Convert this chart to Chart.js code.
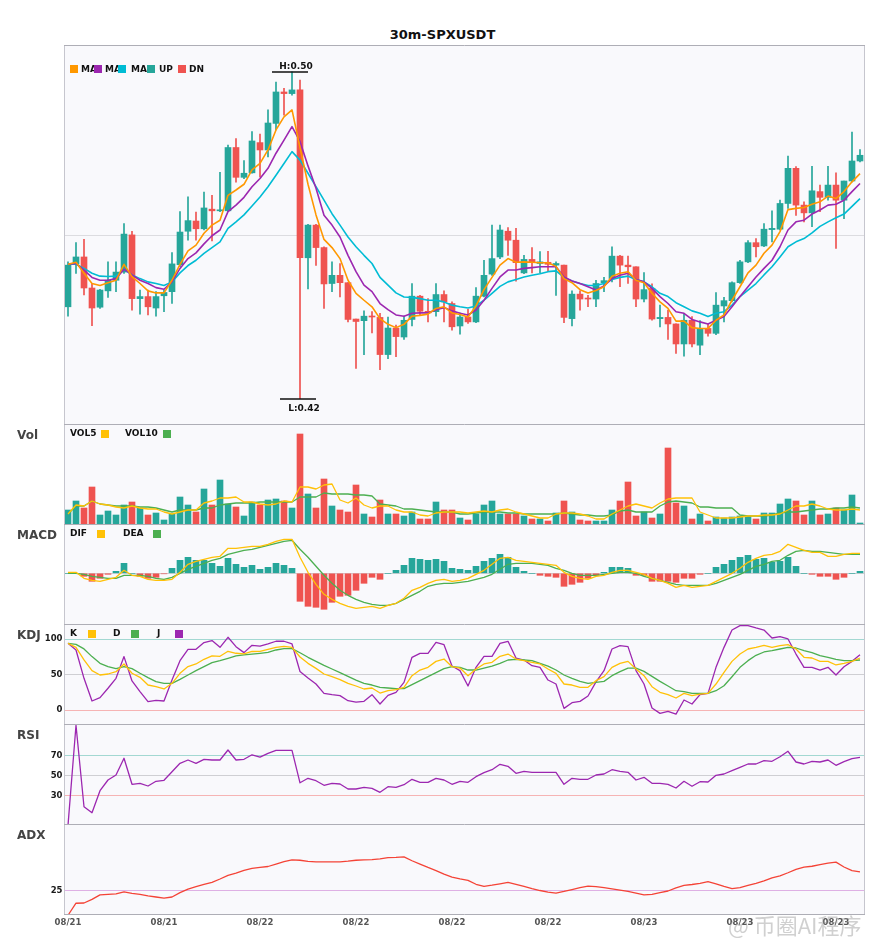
<!DOCTYPE html>
<html><head><meta charset="utf-8"><title>30m-SPXUSDT</title>
<script src="https://cdn.jsdelivr.net/npm/chart.js@4.4.1/dist/chart.umd.min.js"></script>
<style>
html,body{margin:0;padding:0;background:#fff}
body{width:885px;height:950px;position:relative;overflow:hidden;font-family:"DejaVu Sans",sans-serif}
.pane{position:absolute;left:0;width:885px}
.tx{position:absolute;font-weight:bold;white-space:nowrap}
.s9{font-size:9px;line-height:9px;color:#111}
.lab{font-size:12px;line-height:12px;color:#444}
.sq{position:absolute;width:8px;height:8px}
</style></head><body>
<div id="charts"></div>
<div class="tx" style="left:0;width:885px;text-align:center;top:27.5px;font-size:13px;line-height:13px;color:#111">30m-SPXUSDT</div>
<!-- main legend -->
<div class="sq" style="left:70px;top:65px;background:#ff9800"></div><div class="tx s9" style="left:81px;top:64.7px">MA</div>
<div class="sq" style="left:94px;top:65px;background:#9c27b0"></div><div class="tx s9" style="left:105px;top:64.7px">MA</div>
<div class="sq" style="left:118px;top:65px;background:#00bcd4"></div><div class="tx s9" style="left:131px;top:64.7px">MA</div>
<div class="sq" style="left:147px;top:65px;background:#26a69a"></div><div class="tx s9" style="left:159px;top:64.7px">UP</div>
<div class="sq" style="left:178px;top:65px;background:#ef5350"></div><div class="tx s9" style="left:189px;top:64.7px">DN</div>
<!-- panel labels -->
<div class="tx lab" style="left:17px;top:428.7px">Vol</div>
<div class="tx lab" style="left:17px;top:529.2px">MACD</div>
<div class="tx lab" style="left:17px;top:628.7px">KDJ</div>
<div class="tx lab" style="left:17px;top:728.7px">RSI</div>
<div class="tx lab" style="left:17px;top:829.2px">ADX</div>
<!-- sub legends -->
<div class="tx s9" style="left:70px;top:429.2px">VOL5</div><div class="sq" style="left:101px;top:429.5px;background:#ffc107"></div>
<div class="tx s9" style="left:125px;top:429.2px">VOL10</div><div class="sq" style="left:163px;top:429.5px;background:#4caf50"></div>
<div class="tx s9" style="left:70px;top:529.2px">DIF</div><div class="sq" style="left:97px;top:529.5px;background:#ffc107"></div>
<div class="tx s9" style="left:123px;top:529.2px">DEA</div><div class="sq" style="left:153px;top:529.5px;background:#4caf50"></div>
<div class="tx s9" style="left:70px;top:629.2px">K</div><div class="sq" style="left:87.5px;top:629.5px;background:#ffc107"></div>
<div class="tx s9" style="left:113px;top:629.2px">D</div><div class="sq" style="left:131px;top:629.5px;background:#4caf50"></div>
<div class="tx s9" style="left:157px;top:629.2px">J</div><div class="sq" style="left:175px;top:629.5px;background:#9c27b0"></div>
<div class="tx" style="left:728px;top:911px;font-family:'Noto Sans CJK SC',sans-serif;font-size:22px;line-height:26px;color:rgba(150,150,150,0.45);font-weight:normal">@ 币圈AI程序</div>
<script>
// ---------- data ----------
const categories = [];
for (let i = 0; i < 100; i++) {
  const t = new Date(Date.UTC(2024, 7, 21, 14, 0) + i * 1800000);
  const p = n => String(n).padStart(2, '0');
  categories.push(p(t.getUTCMonth() + 1) + '/' + p(t.getUTCDate()) + ' ' + p(t.getUTCHours()) + ':' + p(t.getUTCMinutes()));
}
const tickEvery = 12;

const opens = [.4425,.4530,.4547,.4471,.4424,.4464,.4490,.4510,.4601,.4445,
.4450,.4422,.4452,.4462,.4528,.4610,.4635,.4616,.4664,.4660,
.4660,.4815,.4742,.4753,.4827,.4809,.4874,.4951,.4947,.4956,
.4545,.4625,.4570,.4482,.4502,.4484,.4395,.4391,.4401,.4399,
.4308,.4373,.4351,.4394,.4451,.4414,.4413,.4455,.4433,.4378,
.4400,.4388,.4451,.4505,.4547,.4610,.4588,.4508,.4541,.4531,
.4534,.4527,.4527,.4396,.4456,.4446,.4444,.4484,.4494,.4549,
.4527,.4523,.4444,.4470,.4396,.4399,.4383,.4334,.4392,.4331,
.4372,.4360,.4427,.4440,.4484,.4535,.4582,.4574,.4614,.4615,
.4678,.4764,.4674,.4655,.4707,.4693,.4723,.4686,.4733,.4782];
const highs = [.4535,.4582,.4590,.4482,.4468,.4535,.4535,.4629,.4610,.4466,
.4466,.4462,.4466,.4558,.4658,.4694,.4657,.4706,.4698,.4754,
.4821,.4837,.4783,.4854,.4848,.4907,.4975,.4960,.5000,.4980,
.4627,.4627,.4572,.4535,.4531,.4484,.4395,.4415,.4413,.4409,
.4400,.4380,.4402,.4482,.4453,.4445,.4482,.4464,.4437,.4410,
.4419,.4472,.4539,.4625,.4625,.4619,.4617,.4551,.4570,.4560,
.4561,.4535,.4527,.4464,.4464,.4453,.4490,.4497,.4572,.4551,
.4549,.4523,.4509,.4481,.4429,.4417,.4383,.4409,.4401,.4391,
.4383,.4460,.4448,.4486,.4539,.4587,.4592,.4629,.4660,.4686,
.4794,.4768,.4682,.4769,.4723,.4769,.4753,.4733,.4853,.4810];
const lows = [.4402,.4507,.4454,.4379,.4421,.4448,.4462,.4507,.4417,.4407,
.4405,.4402,.4413,.4433,.4523,.4588,.4588,.4613,.4586,.4658,
.4658,.4730,.4739,.4752,.4743,.4792,.4858,.4894,.4943,.4200,
.4469,.4526,.4421,.4462,.4449,.4388,.4274,.4308,.4361,.4271,
.4298,.4303,.4345,.4378,.4404,.4388,.4402,.4388,.4368,.4358,
.4384,.4386,.4449,.4502,.4543,.4551,.4488,.4506,.4508,.4508,
.4511,.4453,.4386,.4378,.4417,.4425,.4425,.4462,.4486,.4474,
.4482,.4425,.4437,.4392,.4376,.4345,.4311,.4304,.4327,.4308,
.4353,.4357,.4388,.4437,.4482,.4533,.4547,.4572,.4584,.4613,
.4666,.4649,.4633,.4621,.4658,.4686,.4568,.4641,.4731,.4780];
const closes = [.4527,.4547,.4471,.4422,.4466,.4490,.4510,.4603,.4445,.4450,
.4425,.4450,.4460,.4530,.4608,.4636,.4616,.4667,.4660,.4662,
.4815,.4742,.4752,.4831,.4809,.4875,.4951,.4947,.4956,.4545,
.4625,.4570,.4481,.4502,.4484,.4394,.4389,.4402,.4400,.4308,
.4373,.4352,.4392,.4451,.4414,.4410,.4455,.4437,.4376,.4400,
.4388,.4451,.4502,.4543,.4613,.4588,.4533,.4541,.4533,.4535,
.4529,.4531,.4399,.4456,.4444,.4444,.4482,.4489,.4549,.4527,
.4523,.4444,.4467,.4395,.4399,.4383,.4334,.4392,.4334,.4372,
.4360,.4429,.4440,.4484,.4535,.4582,.4572,.4615,.4617,.4678,
.4764,.4674,.4655,.4709,.4693,.4723,.4686,.4733,.4782,.4796];

const ma5 = [.4529,.4534,.4507,.4482,.4477,.4484,.4490,.4529,.4499,.4482,
.4464,.4459,.4459,.4490,.4529,.4562,.4576,.4605,.4625,.4637,
.4698,.4711,.4725,.4760,.4776,.4809,.4858,.4890,.4907,.4815,
.4725,.4650,.4590,.4570,.4543,.4490,.4458,.4441,.4425,.4396,
.4382,.4374,.4382,.4402,.4404,.4407,.4421,.4425,.4410,.4406,
.4400,.4427,.4467,.4497,.4527,.4543,.4534,.4535,.4534,.4533,
.4533,.4524,.4494,.4484,.4467,.4459,.4465,.4474,.4500,.4507,
.4511,.4490,.4484,.4458,.4437,.4421,.4390,.4390,.4374,.4372,
.4372,.4392,.4405,.4441,.4474,.4508,.4527,.4556,.4576,.4609,
.4663,.4666,.4668,.4676,.4682,.4696,.4690,.4707,.4731,.4751];
const ma10 = [.4529,.4531,.4515,.4497,.4490,.4490,.4494,.4517,.4503,.4490,
.4482,.4472,.4468,.4486,.4519,.4543,.4557,.4579,.4599,.4613,
.4658,.4674,.4693,.4719,.4739,.4764,.4801,.4833,.4866,.4830,
.4770,.4715,.4649,.4625,.4596,.4551,.4511,.4478,.4462,.4433,
.4418,.4405,.4402,.4409,.4410,.4410,.4418,.4423,.4415,.4409,
.4405,.4417,.4441,.4470,.4498,.4515,.4515,.4519,.4521,.4523,
.4523,.4523,.4498,.4488,.4482,.4474,.4466,.4476,.4494,.4502,
.4507,.4492,.4486,.4470,.4450,.4433,.4413,.4409,.4394,.4388,
.4383,.4392,.4401,.4425,.4450,.4474,.4498,.4519,.4539,.4572,
.4613,.4633,.4637,.4652,.4662,.4674,.4676,.4686,.4707,.4727];
const ma20 = [.4529,.4529,.4519,.4507,.4500,.4499,.4500,.4517,.4503,.4494,
.4486,.4482,.4477,.4486,.4508,.4526,.4539,.4556,.4570,.4584,
.4617,.4633,.4650,.4672,.4694,.4719,.4747,.4776,.4805,.4784,
.4752,.4719,.4686,.4653,.4625,.4596,.4572,.4551,.4531,.4497,
.4478,.4459,.4449,.4448,.4445,.4441,.4441,.4437,.4429,.4425,
.4422,.4427,.4441,.4458,.4475,.4486,.4492,.4498,.4502,.4506,
.4511,.4513,.4497,.4488,.4482,.4477,.4477,.4482,.4492,.4497,
.4500,.4492,.4486,.4474,.4458,.4450,.4435,.4425,.4415,.4409,
.4401,.4409,.4413,.4429,.4450,.4466,.4482,.4503,.4523,.4547,
.4572,.4584,.4592,.4606,.4622,.4633,.4643,.4652,.4671,.4690];

const volume = [14,23,16,37,9,13,9,19,22,16, 9,11,4,10,27,19,12,35,19,44,
20,17,8,22,19,24,25,23,16,90, 30,16,45,18,14,12,39,10,7,24,
10,10,8,12,5,5,22,14,14,6, 4,10,19,23,10,10,10,8,5,5,
3,11,23,12,4,3,3,3,14,23, 42,8,12,6,10,76,21,18,5,10,
3,7,6,7,8,8,5,11,11,20, 25,23,9,23,9,10,16,14,29,1];
const vol5 = [10,19,18,23,20,19,17,16,18,16, 15,15,12,10,12,14,14,21,23,26,
26,27,22,22,20,19,20,23,22,37, 37,35,39,40,24,21,26,19,16,18,
18,14,12,12,9,8,11,12,12,12, 11,12,13,12,14,15,12,10,8,6,
6,10,11,11,10,8,5,5,10,14, 18,20,18,16,21,25,26,26,26,12,
9,6,6,6,7,8,8,9,9,10, 14,18,18,20,18,15,14,14,15,14];
const vol10 = [10,18,18,23,20,19,18,18,18,17, 17,16,14,12,14,14,14,16,16,19,
20,21,21,21,22,22,22,22,22,27, 27,27,31,30,30,30,29,29,28,20,
19,18,15,15,14,13,12,12,12,10, 10,11,12,12,12,11,11,10,10,10,
10,10,11,10,9,9,8,8,9,13, 14,12,12,12,18,22,23,22,21,17,
17,16,16,16,9,8,8,8,9,11, 12,12,13,14,15,15,16,16,17,16];

const macdHist = [0,0,-3,-8,-5,-1,2,10,0,-3, -5,-4,-0.5,5,13,16,13,13,10,7,
15,9,6,8,4,6,10,8,5,-28, -33,-34,-36,-29,-23,-22,-17,-10,-4,-6,
0,3,8,15,14,13,14,12,5,4, 3,7,12,15,19,16,6,2,0,-2,
-3,-4,-13,-11,-9,-5,-2,1,6,6, 5,-2,-2,-8,-8,-8,-9,-5,-5,-1,
0,6,9,13,16,18,14,15,11,12, 16,7,0,-1,-3,-3,-6,-4,0,2];
const dif = [1,1,-5,-7,-8,-6,-4,3,-2,-3, -6,-7,-7,-6,1,9,12,14,16,17,
25,25,26,27,27,29,32,34,34,16, 1,-11,-21,-26,-30,-33,-35,-34,-33,-35,
-32,-30,-25,-17,-14,-10,-7,-6,-8,-7, -5,-1,3,9,15,16,13,12,11,10,
9,8,1,-3,-5,-6,-3,-2,1,3, 3,1,-1,-5,-7,-10,-14,-12,-14,-13,
-12,-8,-4,0,5,11,15,18,19,22, 29,26,23,21,21,17,17,19,20,20];
const dea = [0,0,-1,-3,-4,-5,-5,-2,-2,-2, -3,-5,-6,-4,0,4,7,10,13,15,
19,21,23,24,26,28,30,32,33,24, 16,7,-2,-10,-17,-22,-26,-29,-31,-32,
-32,-30,-26,-22,-18,-13,-11,-10,-10,-9, -8,-6,-4,-1,4,9,10,10,10,9,
8,5,3,0,-2,-2,-2,-1,0,1, 1,0,-3,-5,-7,-9,-11,-12,-12,-12,
-12,-10,-7,-4,-1,3,7,9,12,13, 18,22,23,22,22,21,20,19,19,19];

const kLine = [94.3,88.7,70.9,55.8,49.7,51.1,54.4,65.2,52.1,46.4,
35.6,33.3,30,38,52.1,61.5,65.2,71.8,76.5,76,
83.1,80.3,79.3,82.8,83,85.8,88.6,90,88.6,75,
66.1,59,51.1,47.3,43.1,37.9,34.2,30,31.4,24.3,
27.6,29,32.3,48.7,56.7,60.5,68.9,72.2,61.4,59.5,
48.7,58.1,65.2,67.5,76,79.2,72.2,69.9,67.5,65.2,
58.1,52,37,35.6,32.3,32.3,41.7,47.3,60.5,66.1,
68.9,58.1,48.7,33.2,25.3,22,17.3,23.8,20.6,22.9,
23.8,37,53.4,68.9,79.2,86.3,88.6,91.5,88.6,91,
92.4,86.3,74.6,73.6,68.9,68.9,63.8,66.1,68.9,73.6];
const dLine = [94.3,92.9,86.4,75.6,66.2,61.5,58.7,61.5,58.7,52.1,
46,40.3,38,38,43.6,49.7,55.8,61.5,67.1,69.9,
73.2,76.5,77.9,79,80.2,81.6,84.9,86.8,86.8,81,
74.6,68.9,63.3,58.1,53,47.8,42.6,37.9,35.6,32.3,
31.4,30.4,30.4,36.1,41.7,47.3,53,58.6,61.4,60.5,
56.7,56.7,59.5,62.3,66.1,70.8,71.7,70.8,69.9,66.1,
62.3,56.7,49.7,45,40.7,37.9,39.3,40.7,48.7,54.4,
59.5,59.5,54.8,47.8,40.7,34.2,27.6,26.2,23.8,23.8,
23.8,27.6,34.6,47.3,60.5,69.9,77.4,82.1,83.9,86.3,
88.6,87.7,83.9,81.1,76.9,74.6,71.7,69.9,69.9,70.8];
const jLine = [94.3,84.9,45,13.1,17.8,31,45,75.6,41.3,26.3,
12.2,14,13.1,42.7,69.9,85.9,85.9,95.3,98.1,88.7,
102.8,89.6,81.2,91.5,90.3,93.4,97.2,97.2,93.4,54.6,
45.4,37,23.8,22,20.6,13.5,11.6,12.6,22,8.8,
21,25.3,39.3,74.6,80.2,80.2,95.7,92.4,62.3,55.8,
34.2,60.5,76,76,94.3,97.1,73.6,70.8,62.8,60.5,
42.6,37,2.7,10.7,12.6,20.1,40,55.8,86.3,91,
89.6,55.8,37,3.2,-4.3,-1.5,-5.3,14.5,8.8,22,
23.8,60.5,88.6,113,119.2,119.2,115.9,113,101.8,103.7,
100.4,79.2,60.5,60.5,56.7,60.5,49.7,61.4,68.9,78.3];

const rsi = [0,100,18.6,12.6,34.6,45.3,50.3,67,41,42,
39.3,44,45,53.6,62,65.3,62,66,65.3,65.3,
75.3,65.3,66,70.5,68.2,72,75,75,75,42.5,
47,44.6,40,42,41.3,36.3,36.3,38,37,33,
38.6,38,40.6,46,43,43,47,45.3,41,44,
43,48.6,52.6,55.6,61,59,52,54,53,53,
53,53,41,47,46,46,50.3,51.3,55.6,54,
53,45.3,48,42,42,41,37.3,44,39,43.6,
43.3,50,51.3,54.6,58,61.3,61.3,64.6,64,68.6,
74,63.3,61.3,64,63.3,65.3,60,63.6,66.6,68];

const adx = [14.9,19.9,20,21.5,23.4,23.6,23.8,24.6,24,23.6,
23,22.5,22,22.5,24.3,25.8,26.8,27.8,28.6,30,
31.5,32.4,33.6,34.4,34.8,35.2,36.2,37.2,38,37.8,
37.3,37.1,37.1,37.1,37.1,37.4,37.8,38,38.1,38.4,
38.9,39,39.2,37.6,36.2,34.8,33.5,32,30.8,30,
29.4,27.8,26.9,27.4,28,28.6,27.8,26.9,26,25.2,
24.5,24.1,24.8,25.6,26.4,27,26.8,26.4,25.9,25.4,
24.8,24.1,23.4,23.6,24.3,25,26.3,27.3,27.7,28.2,
28.9,28,26.9,26,26.4,27.3,28.2,29.2,30.5,31.3,
32.6,34,34.9,35.3,36,36.6,37,35,33.5,33];

// reference levels (tick values shown as guide lines)
const mainLevels = [0.46];
const macdLevels = [0];
const kdjLevels = [0, 50, 100];
const rsiLevels = [30, 50, 70];
const adxLevels = [25];

// ---------- layout / style ----------
const W = 885, L = 64, R = 864;
const UP = '#26a69a', DN = '#ef5350';
Chart.defaults.font.family = 'DejaVu Sans';

const panelPlugin = {
  id: 'panel',
  defaults: { bottom: false },
  beforeDraw(chart) {
    const a = chart.chartArea, ctx = chart.ctx;
    ctx.save(); ctx.fillStyle = '#f9f9fc';
    ctx.fillRect(a.left, a.top, a.right - a.left, a.bottom - a.top); ctx.restore();
  },
  afterDraw(chart, args, opts) {
    const a = chart.chartArea, ctx = chart.ctx;
    ctx.save(); ctx.lineWidth = 1;
    ctx.strokeStyle = '#c6c6ce'; ctx.beginPath();
    ctx.moveTo(a.left + 0.5, a.top); ctx.lineTo(a.left + 0.5, a.bottom);
    ctx.moveTo(a.right + 0.5, a.top); ctx.lineTo(a.right + 0.5, a.bottom);
    ctx.stroke();
    ctx.strokeStyle = '#aeaeb6'; ctx.beginPath();
    ctx.moveTo(a.left, a.top + 0.5); ctx.lineTo(a.right + 1, a.top + 0.5);
    if (opts.bottom) { ctx.moveTo(a.left, a.bottom - 0.5); ctx.lineTo(a.right + 1, a.bottom - 0.5); }
    ctx.stroke(); ctx.restore();
  }
};
Chart.register(panelPlugin);

const hlPlugin = {
  id: 'hl',
  afterDatasetsDraw(chart) {
    const xs = chart.scales.x, ys = chart.scales.y, ctx = chart.ctx;
    let hi = 0, lo = 0;
    highs.forEach((v, i) => { if (v > highs[hi]) hi = i; });
    lows.forEach((v, i) => { if (v < lows[lo]) lo = i; });
    ctx.save(); ctx.strokeStyle = '#111'; ctx.lineWidth = 1.3; ctx.fillStyle = '#111';
    ctx.font = 'bold 9px "DejaVu Sans"'; ctx.textAlign = 'center';
    let x = xs.getPixelForValue(hi), y = Math.round(ys.getPixelForValue(highs[hi]));
    ctx.beginPath(); ctx.moveTo(x - 20, y); ctx.lineTo(x + 16, y); ctx.stroke();
    ctx.textBaseline = 'alphabetic'; ctx.fillText('H:' + highs[hi].toFixed(2), x + 4, y - 3.5);
    x = xs.getPixelForValue(lo); y = Math.round(ys.getPixelForValue(lows[lo]));
    ctx.beginPath(); ctx.moveTo(x - 20, y); ctx.lineTo(x + 16, y); ctx.stroke();
    ctx.fillText('L:' + lows[lo].toFixed(2), x + 4, y + 12);
    ctx.restore();
  }
};

function mkCanvas(top, h) {
  const d = document.createElement('div');
  d.className = 'pane'; d.style.top = top + 'px'; d.style.height = h + 'px';
  const c = document.createElement('canvas'); d.appendChild(c);
  document.getElementById('charts').appendChild(d);
  return c;
}
function yScale(min, max, levels, colors, showLabels) {
  return {
    type: 'linear', min, max, position: 'left',
    afterBuildTicks(s) { s.ticks = levels.map(v => ({ value: v })); },
    afterFit(s) { s.width = L; s.paddingTop = 0; s.paddingBottom = 0; },
    grid: { drawTicks: false, lineWidth: 1,
      color: c => (c.tick && levels.indexOf(c.tick.value) >= 0) ? colors[levels.indexOf(c.tick.value)] : 'rgba(0,0,0,0)' },
    border: { display: false },
    ticks: { display: showLabels, padding: 1.5, color: '#1a1a1a',
      font: { family: 'DejaVu Sans', size: 8.5, weight: 'bold' }, callback: v => String(v) }
  };
}
function xScale(show) {
  return {
    type: 'category', offset: true, display: show,
    grid: { display: false, drawTicks: false }, border: { display: false },
    afterFit(s) { if (show) s.height = 20; s.paddingLeft = 0; s.paddingRight = 0; },
    ticks: { autoSkip: false, maxRotation: 0, minRotation: 0, padding: 3, color: '#555',
      font: { family: 'DejaVu Sans', size: 8.5, weight: 'bold' },
      callback(v, i) { return i % tickEvery === 0 ? categories[i].slice(0, 5) : ''; } }
  };
}
function opts(y, showX, bottom) {
  return {
    responsive: true, maintainAspectRatio: false, animation: false, events: [],
    layout: { padding: { left: 0, right: W - R, top: 0, bottom: 0 } },
    plugins: { legend: { display: false }, tooltip: { enabled: false }, panel: { bottom: !!bottom } },
    scales: { x: xScale(showX), y }
  };
}
function line(data, color, width, order) {
  return { type: 'line', data, borderColor: color, borderWidth: width, pointRadius: 0,
    tension: 0, fill: false, order: order || 0, borderJoinStyle: 'round' };
}

const candleColors = closes.map((c, i) => c >= opens[i] ? UP : DN);

// main price panel
new Chart(mkCanvas(45, 379), {
  type: 'bar',
  data: { labels: categories, datasets: [
    line(ma5, '#ff9800', 1.6),
    line(ma10, '#9c27b0', 1.6),
    line(ma20, '#00bcd4', 1.6),
    { type: 'bar', data: opens.map((o, i) => [o, closes[i]]), backgroundColor: candleColors,
      barThickness: 6, grouped: false, minBarLength: 1, order: 1 },
    { type: 'bar', data: lows.map((l, i) => [l, highs[i]]), backgroundColor: candleColors,
      barThickness: 1, grouped: false, order: 2 }
  ]},
  options: opts(yScale(0.4138, 0.5066, mainLevels, ['#dcdce0'], false), false),
  plugins: [hlPlugin]
});

// volume
new Chart(mkCanvas(424, 100), {
  type: 'bar',
  data: { labels: categories, datasets: [
    line(vol5, '#ffc107', 1.3),
    line(vol10, '#4caf50', 1.3),
    { type: 'bar', data: volume, backgroundColor: candleColors, barThickness: 6, grouped: false, order: 1 }
  ]},
  options: opts(yScale(0, 100, [], [], false), false)
});

// MACD
new Chart(mkCanvas(524, 100), {
  type: 'bar',
  data: { labels: categories, datasets: [
    line(dif, '#ffc107', 1.3),
    line(dea, '#4caf50', 1.3),
    { type: 'bar', data: macdHist, backgroundColor: macdHist.map(v => v >= 0 ? UP : DN),
      barThickness: 6, grouped: false, order: 1 }
  ]},
  options: opts(yScale(-50.7, 49.3, macdLevels, ['#d0d0d4'], false), false)
});

// KDJ
new Chart(mkCanvas(624, 100), {
  type: 'line',
  data: { labels: categories, datasets: [
    line(kLine, '#ffc107', 1.3),
    line(dLine, '#4caf50', 1.3),
    line(jLine, '#9c27b0', 1.3)
  ]},
  options: opts(yScale(-19.3, 121.5, kdjLevels, ['#f6b4b4', '#cfcfd3', '#a3d8d2'], true), false)
});

// RSI
new Chart(mkCanvas(724, 100), {
  type: 'line',
  data: { labels: categories, datasets: [ line(rsi, '#9c27b0', 1.3) ] },
  options: opts(yScale(1.3, 101.3, rsiLevels, ['#f6b4b4', '#cfcfd3', '#a3d8d2'], true), false)
});

// ADX
new Chart(mkCanvas(824, 111), {
  type: 'line',
  data: { labels: categories, datasets: [ line(adx, '#f44336', 1.3) ] },
  options: opts(yScale(15, 52.9, adxLevels, ['#deb0e4'], true), true, true)
});
</script>
</body></html>
